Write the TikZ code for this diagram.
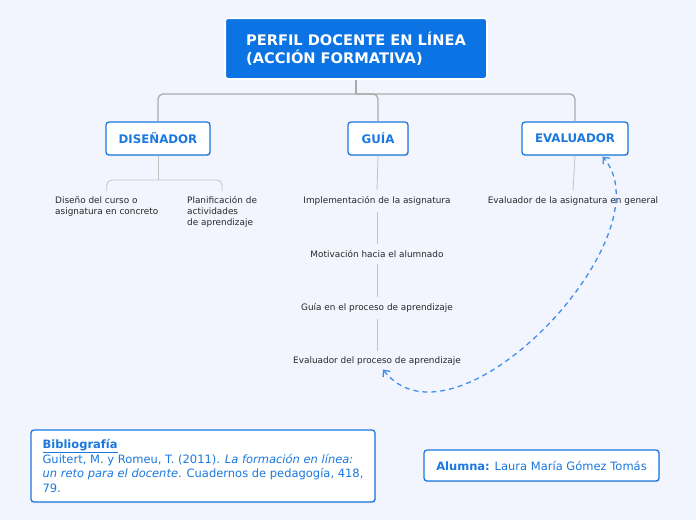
\documentclass[tikz,border=0pt]{standalone}
\usepackage{fontspec}
\setmainfont{DejaVu Sans}
\usetikzlibrary{arrows.meta,shadows}

\definecolor{bgblue}{RGB}{242,245,254}
\definecolor{rootblue}{RGB}{11,115,228}
\definecolor{boxblue}{RGB}{26,120,224}
\definecolor{linegray}{RGB}{170,170,170}
\definecolor{dashblue}{RGB}{64,142,236}
\definecolor{txtgray}{RGB}{40,40,40}

\tikzset{
  topic/.style={draw=boxblue, line width=1.3pt, fill=white, rounded corners=3pt,
    text=boxblue, font=\bfseries\fontsize{11.8}{14}\selectfont, minimum height=33pt,
    drop shadow={opacity=0.18, shadow xshift=0.8pt, shadow yshift=-1.2pt}},
  sub/.style={text=txtgray, font=\fontsize{8.9}{11}\selectfont, inner sep=2pt, align=left},
  note/.style={draw=boxblue, line width=1.3pt, fill=white, rounded corners=3pt,
    text=boxblue, font=\fontsize{11.5}{14.5}\selectfont, align=left,
    drop shadow={opacity=0.18, shadow xshift=0.8pt, shadow yshift=-1.2pt}},
  branch/.style={draw=linegray, line width=1.3pt, rounded corners=5pt},
  twig/.style={draw=linegray!70, line width=0.8pt},
}

\begin{document}
\begin{tikzpicture}[x=1pt,y=-1pt]
  \fill[bgblue] (0,0) rectangle (696,520);
  \useasboundingbox (0,0) rectangle (696,520);

  % main topic
  \node[fill=rootblue, draw=white, line width=2pt, rounded corners=3pt, text=white,
    font=\bfseries\fontsize{14.6}{18}\selectfont, align=left,
    minimum width=262pt, minimum height=61pt] (root) at (356,48.5)
    {PERFIL DOCENTE EN LÍNEA\\(ACCIÓN FORMATIVA)};

  % topics
  \node[topic, minimum width=104pt] (dis) at (158,138.5) {DISEÑADOR};
  \node[topic, minimum width=60pt] (gui) at (378,138.5) {GUÍA};
  \node[topic, minimum width=106pt] (eva) at (575,138.5) {EVALUADOR};

  \coordinate (bus) at (356,94);
  \draw[branch] (root.south) -- (bus);
  \draw[branch] (bus) -| (dis.north);
  \draw[branch] (bus) -| (gui.north);
  \draw[branch] (bus) -| (eva.north);

  % subtopics
  \node[sub, anchor=north west] (d1) at (53,194) {Diseño del curso o\\asignatura en concreto};
  \node[sub, anchor=north west] (d2) at (185,194) {Planificación de\\actividades\\de aprendizaje};

  \node[sub] (g1) at (377,201) {Implementación de la asignatura};
  \node[sub] (g2) at (377,254) {Motivación hacia el alumnado};
  \node[sub] (g3) at (377,308) {Guía en el proceso de aprendizaje};
  \node[sub] (g4) at (377,361) {Evaluador del proceso de aprendizaje};

  \node[sub] (e1) at (573,201) {Evaluador de la asignatura en general};

  \coordinate (dfork) at (158,180);
  \draw[twig] (dis.south) -- (dfork);
  \draw[twig, rounded corners=5pt] (dfork) -| ([yshift=3pt]d1.north);
  \draw[twig, rounded corners=5pt] (dfork) -| ([yshift=3pt]d2.north);

  \draw[twig] (gui.south) -- ([yshift=4pt]g1.north);
  \draw[twig] ([yshift=-4pt]g1.south) -- ([yshift=4pt]g2.north);
  \draw[twig] ([yshift=-4pt]g2.south) -- ([yshift=4pt]g3.north);
  \draw[twig] ([yshift=-4pt]g3.south) -- ([yshift=4pt]g4.north);
  \draw[twig] (eva.south) -- ([yshift=4pt]e1.north);

  % relation
  \draw[dashblue, line width=1.3pt, dash pattern=on 5pt off 4pt,
    {Straight Barb[length=5pt,width=9pt]}-{Straight Barb[length=5pt,width=9pt]}]
    ([xshift=6pt,yshift=-2pt]g4.south) .. controls (455,462) and (670,235) .. ([xshift=-26pt,yshift=-1pt]eva.south east);

  % notes
  \node[note, minimum width=344pt, minimum height=72pt] (bib) at (203,466)
    {\textbf{\underline{Bibliografía}}\\
     Guitert, M. y Romeu, T. (2011). \textit{La formación en línea:}\\
     \textit{un reto para el docente}. Cuadernos de pedagogía, 418,\\
     79.};
  \node[note, minimum width=235pt, minimum height=31pt] (alu) at (541.5,465.5)
    {\textbf{Alumna:} Laura María Gómez Tomás};
\end{tikzpicture}
\end{document}
